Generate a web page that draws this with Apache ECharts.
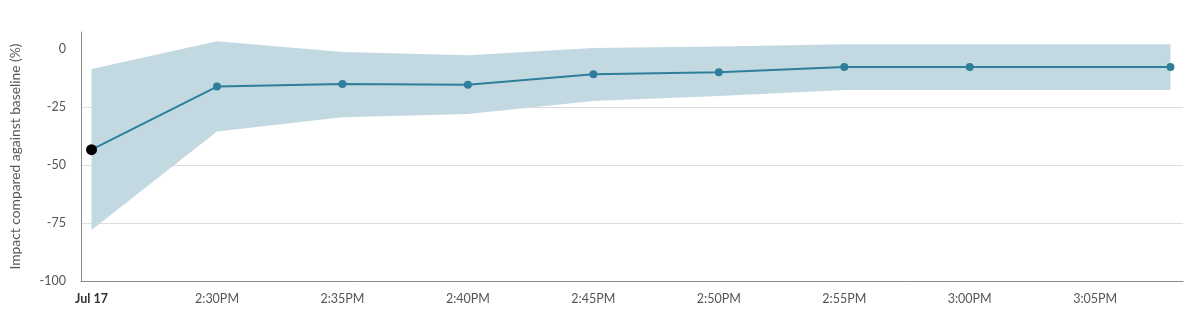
<!DOCTYPE html>
<html>
<head>
<meta charset="utf-8">
<script src="https://cdn.jsdelivr.net/npm/echarts@6/dist/echarts.min.js"></script>
<style>
  html, body { margin: 0; padding: 0; background: #fff; }
  #chart { width: 1193px; height: 322px; }
</style>
</head>
<body>
<div id="chart"></div>
<script>
// Sample times (local clock, Jul 17)
const times = ['14:25', '14:30', '14:35', '14:40', '14:45', '14:50', '14:55', '15:00', '15:08'];
// Estimated impact (%) and its confidence band
const impact = [-43.4, -16.2, -15.1, -15.4, -10.9, -10.0, -7.8, -7.8, -7.8];
const upper  = [-8.6, 3.3, -1.3, -2.7, 0.4, 1.0, 2.0, 2.0, 2.0];
const lower  = [-78.0, -35.6, -29.4, -28.0, -22.4, -20.3, -17.7, -17.7, -17.7];
// Labelled times on the x axis
const tickTimes = ['14:25', '14:30', '14:35', '14:40', '14:45', '14:50', '14:55', '15:00', '15:05'];
const yTicks = [-100, -75, -50, -25, 0];

// x positions are minutes since the first sample
function toMin(hm) {
  const [h, m] = hm.split(':').map(Number);
  return h * 60 + m;
}
const start = toMin(times[0]);
const xs = times.map(t => toMin(t) - start);
const tickXs = tickTimes.map(t => toMin(t) - start);

const lineData = xs.map((x, i) => ({
  value: [x, impact[i]],
  symbolSize: i === 0 ? 11 : 8,
  itemStyle: i === 0 ? { color: '#000000' } : undefined
}));

function fmtTime(v) {
  if (v === tickXs[0]) return '{day|Jul 17}';
  const total = start + v;
  let h = Math.floor(total / 60);
  const m = Math.round(total % 60);
  const ap = h >= 12 ? 'PM' : 'AM';
  h = h % 12; if (h === 0) h = 12;
  return h + ':' + String(m).padStart(2, '0') + ap;
}

// Confidence band: one polygon along the upper bound and back along the lower bound
function renderBand(params, api) {
  const pts = [];
  for (let i = 0; i < xs.length; i++) pts.push(api.coord([xs[i], upper[i]]));
  for (let i = xs.length - 1; i >= 0; i--) pts.push(api.coord([xs[i], lower[i]]));
  return {
    type: 'polygon',
    shape: { points: pts },
    style: { fill: '#c3d9e1' },
    silent: true
  };
}

const chart = echarts.init(document.getElementById('chart'), null, { renderer: 'canvas' });
chart.setOption({
  animation: false,
  textStyle: { fontFamily: 'Lato, "Noto Sans", sans-serif' },
  grid: { left: 81, right: 10, top: 32, bottom: 41, containLabel: false },
  xAxis: {
    type: 'value',
    min: -0.42,
    max: 43.5,
    axisLine: { show: true, onZero: false, lineStyle: { color: '#8a8a8a', width: 1 } },
    axisTick: { show: false },
    splitLine: { show: false },
    axisLabel: {
      customValues: tickXs,
      formatter: fmtTime,
      color: '#555555',
      fontSize: 12.5,
      margin: 11,
      hideOverlap: false,
      rich: { day: { fontWeight: 'bold', color: '#333333', fontSize: 12.5 } }
    }
  },
  yAxis: {
    type: 'value',
    min: -100,
    max: 7.3,
    name: 'Impact compared against baseline (%)',
    nameLocation: 'middle',
    nameRotate: 90,
    nameGap: 58,
    nameTextStyle: { color: '#555555', fontSize: 13.8, align: 'center' },
    axisLine: { show: true, onZero: false, lineStyle: { color: '#8a8a8a', width: 1 } },
    axisTick: { show: false, customValues: yTicks },
    axisLabel: { customValues: yTicks, color: '#555555', fontSize: 12.5, margin: 15 },
    splitLine: { show: true, showMinLine: false, showMaxLine: false, lineStyle: { color: '#dddddd', width: 1 } }
  },
  series: [
    {
      type: 'custom',
      renderItem: renderBand,
      data: [[0, 0]],
      silent: true,
      z: 1
    },
    {
      type: 'line',
      data: lineData,
      symbol: 'circle',
      symbolSize: 8,
      showAllSymbol: true,
      lineStyle: { color: '#2f7f9c', width: 2 },
      itemStyle: { color: '#2f7f9c' },
      z: 5
    }
  ]
});
</script>
</body>
</html>
